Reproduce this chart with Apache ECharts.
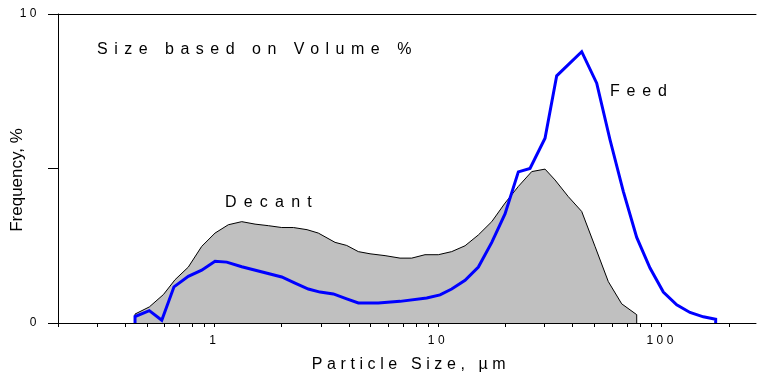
<!DOCTYPE html>
<html>
<head>
<meta charset="utf-8">
<script src="https://cdn.jsdelivr.net/npm/echarts@6/dist/echarts.min.js"></script>
<style>html,body{margin:0;padding:0;background:#fff}#c{width:760px;height:376px}</style>
</head>
<body>
<div id="c"></div>
<script>
// Decant (grey area) — particle size (µm) and frequency (%)
const sizesDecant = [0.442,0.442,0.512,0.592,0.667,0.765,0.878,1.007,1.155,1.326,1.520,1.743,2.001,2.256,2.597,2.917,3.464,3.907,4.403,4.966,5.798,6.763,7.627,8.747,10.03,11.51,13.21,15.15,17.39,19.93,22.86,26.24,30.09,33.34,38.23,43.89,50.33,57.72,66.26,77.32,77.32];
const decant = [0,0.29,0.52,0.92,1.40,1.81,2.48,2.91,3.18,3.28,3.20,3.15,3.09,3.09,3.02,2.91,2.61,2.51,2.31,2.24,2.18,2.10,2.10,2.21,2.21,2.31,2.50,2.85,3.28,3.88,4.42,4.90,4.98,4.63,4.09,3.61,2.48,1.34,0.62,0.27,0];
// Feed (blue line)
const sizesFeed = [0.442,0.442,0.512,0.582,0.660,0.765,0.878,1.007,1.136,1.326,2.001,2.295,2.632,2.969,3.404,3.907,4.403,5.409,6.763,8.903,10.21,11.51,13.21,15.15,17.39,19.93,22.86,25.78,30.09,33.93,43.89,51.22,58.74,67.35,77.32,88.67,101.7,116.7,133.8,153.5,174.3,174.3];
const feed = [0,0.21,0.40,0.09,1.17,1.51,1.71,2.00,1.97,1.82,1.49,1.29,1.10,1.00,0.94,0.78,0.65,0.65,0.70,0.81,0.91,1.10,1.38,1.81,2.61,3.53,4.89,5.00,5.98,8.00,8.78,7.76,5.93,4.26,2.77,1.78,1.00,0.59,0.34,0.20,0.12,0];
// Axis ticks / labels
const xLabels = [1, 10, 100];
const xTicks = [0.2,0.3,0.4,0.5,0.6,0.7,0.8,0.9,1,2,3,4,5,6,7,8,9,10,20,30,40,50,60,70,80,90,100,200];
const yLabels = [0, 10];
const yTicks = [0, 5, 10];
const titleText = 'Size based on Volume %';
const xName = 'Particle Size, µm';
const yName = 'Frequency, %';
const nameDecant = 'Decant';
const nameFeed = 'Feed';

// letter spacing: fonts whose family list carries a "lspNN" marker get NN/10 px letter spacing
(function () {
  const proto = CanvasRenderingContext2D.prototype;
  const desc = Object.getOwnPropertyDescriptor(proto, 'font');
  if (!desc || !('letterSpacing' in proto)) return;
  Object.defineProperty(proto, 'font', {
    configurable: true, enumerable: desc.enumerable, get: desc.get,
    set: function (v) {
      desc.set.call(this, v);
      const m = /lsp(\d+)/.exec(String(v));
      this.letterSpacing = m ? (Number(m[1]) / 10) + 'px' : '0px';
    }
  });
})();
const fam = n => "'Liberation Sans', lsp" + n + ", Arial, sans-serif";

const chart = echarts.init(document.getElementById('c'), null, {renderer: 'canvas'});
chart.setOption({
  animation: false,
  backgroundColor: '#fff',
  grid: {left: 58, right: 4, top: 14, bottom: 53, containLabel: false, outerBoundsMode: 'none'},
  xAxis: [{
    type: 'log', logBase: 10, min: 0.2, max: 264,
    name: xName, nameLocation: 'middle', nameGap: 31, nameMoveOverlap: false,
    nameTextStyle: {fontFamily: fam(46), fontSize: 16, color: '#000', padding: [0, 0, 0, 8]},
    axisLine: {show: true, lineStyle: {color: '#000', width: 1}},
    axisTick: {show: true, length: 4, customValues: xTicks, lineStyle: {color: '#000'}},
    axisLabel: {customValues: xLabels, margin: 10, fontFamily: fam(35), fontSize: 12, color: '#000',
      formatter: v => String(Math.round(v))},
    splitLine: {show: false}, minorTick: {show: false}, z: 5
  }, {
    type: 'log', logBase: 10, min: 0.2, max: 264, position: 'top',
    axisLine: {show: true, onZero: false, lineStyle: {color: '#000', width: 1}},
    axisTick: {show: false}, axisLabel: {show: false}, splitLine: {show: false}
  }],
  yAxis: {
    type: 'value', min: 0, max: 10,
    name: yName, nameLocation: 'middle', nameGap: 32, nameRotate: 90, nameMoveOverlap: false,
    nameTextStyle: {fontFamily: fam(0), fontSize: 17, color: '#000', padding: [0, 23, 0, 0]},
    axisLine: {show: true, lineStyle: {color: '#000', width: 1}},
    axisTick: {show: true, length: 10, customValues: yTicks, lineStyle: {color: '#000'}},
    axisLabel: {customValues: yLabels, margin: 18, fontFamily: fam(35), fontSize: 12, color: '#000',
      formatter: v => String(v)},
    splitLine: {show: false}
  },
  graphic: [
    {type: 'text', left: 97, top: 38, style: {text: titleText, font: '16px ' + fam(65), fill: '#000'}},
    {type: 'text', left: 225, top: 191, style: {text: nameDecant, font: '16px ' + fam(72), fill: '#000'}},
    {type: 'text', left: 610, top: 80, style: {text: nameFeed, font: '16px ' + fam(68), fill: '#000'}}
  ],
  series: [{
    name: nameDecant, type: 'line', xAxisIndex: 0, symbol: 'none',
    data: sizesDecant.map((s, i) => [s, decant[i]]),
    lineStyle: {color: '#000', width: 1},
    areaStyle: {color: '#c0c0c0', opacity: 1},
    z: 2
  }, {
    name: nameFeed, type: 'line', xAxisIndex: 0, symbol: 'none',
    data: sizesFeed.map((s, i) => [s, feed[i]]),
    lineStyle: {color: '#0000ff', width: 3, join: 'miter'},
    z: 3
  }]
});
</script>
</body>
</html>
